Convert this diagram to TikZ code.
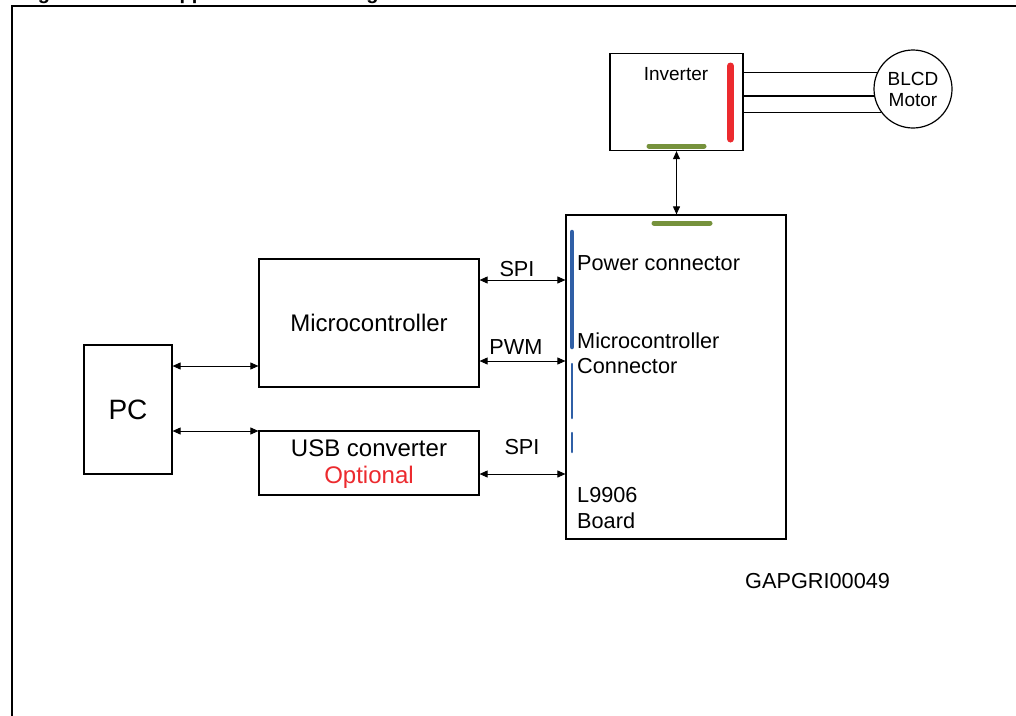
\documentclass[tikz,border=0pt]{standalone}
\usepackage{fontspec}
\setmainfont{Liberation Sans}
\usetikzlibrary{arrows.meta,calc}
\definecolor{barblue}{HTML}{2F5FA6}
\definecolor{bargreen}{HTML}{76923C}
\definecolor{barred}{HTML}{EC2A2E}
\newcommand{\fs}[1]{\fontsize{#1}{#1}\selectfont}
\tikzset{
  box/.style={draw, line width=1.2pt, rectangle, inner sep=0pt, align=center},
  biarrow/.style={line width=0.9pt, {Triangle[length=8pt,width=7pt]}-{Triangle[length=8pt,width=7pt]}},
  wire/.style={line width=1.2pt},
  bar/.style={line cap=round},
  lbl/.style={inner sep=0pt, font=\fs{21.7}},
}
\begin{document}
\begin{tikzpicture}[x=1pt,y=-1pt]
\useasboundingbox (0,0) rectangle (1016,715);
\fill[white] (0,0) rectangle (1016,715);
% frame and cut-off title
\node[anchor=base west, inner sep=0pt, font=\bfseries\fs{20}] (title1) at (20,-0.8) {Figure 5.};
\node[anchor=base west, inner sep=0pt, font=\bfseries\fs{20}] (title2) at (165,-0.8) {Application block diagram};
\draw[line width=2.6pt] (12,720) -- (12,6) -- (1020,6);
% inverter and motor
\node[box, minimum width=133pt, minimum height=97pt] (inv) at (676.5,102) {};
\node[lbl, font=\fs{19}] (invt) at (676,74) {Inverter};
\draw[bar, barred, line width=7pt] (730.5,66) -- (730.5,139);
\draw[bar, bargreen, line width=5pt] (649,146) -- (704,146);
\node[draw, circle, line width=1.2pt, minimum size=78pt, inner sep=0pt, align=center, font=\fs{19}] (motor) at (913,89) {BLCD\\[2pt]Motor};
\draw[wire] (motor.155.8 -| inv.east) -- (motor.155.8);
\draw[line width=2.4pt] (motor.190.3 -| inv.east) -- (motor.190.3);
\draw[wire] (motor.216.1 -| inv.east) -- (motor.216.1);
% board
\node[box, minimum width=220pt, minimum height=324pt] (board) at (676,377) {};
\draw[biarrow] (inv.south) -- (inv.south |- board.north);
\draw[bar, bargreen, line width=5pt] (654,223) -- (710,223);
\draw[bar, barblue, line width=4.5pt] (572,232) -- (572,347);
\draw[bar, barblue, line width=2.5pt] (572,364) -- (572,418);
\draw[bar, barblue, line width=2.5pt] (572,433) -- (572,452);
\node[lbl, anchor=west] (pwr) at (577,263) {Power connector};
\node[lbl, anchor=west] (mcc1) at (577,341) {Microcontroller};
\node[lbl, anchor=west] (mcc2) at (577,366) {Connector};
\node[lbl, anchor=west] (brd1) at (577,495) {L9906};
\node[lbl, anchor=west] (brd2) at (577,521) {Board};
% left blocks
\node[box, minimum width=220pt, minimum height=128pt, font=\fs{24}] (mcu) at (369,323) {Microcontroller};
\node[box, minimum width=220pt, minimum height=64pt] (usb) at (369,463) {};
\node[lbl, font=\fs{24}] (usbt) at (369,448) {USB converter};
\node[lbl, font=\fs{24}, text=barred] (opt) at (369,477) {Optional};
\node[box, minimum width=88pt, minimum height=129pt, font=\fs{28}] (pc) at (128,409.5) {PC};
% connectors
\coordinate (yA) at (0,366);
\coordinate (yB) at (0,431);
\coordinate (yC) at (0,280);
\coordinate (yD) at (0,361);
\coordinate (yE) at (0,474);
\draw[biarrow] (pc.east |- yA) -- (mcu.west |- yA);
\draw[biarrow] (pc.east |- yB) -- (usb.west |- yB);
\draw[biarrow] (mcu.east |- yC) -- (board.west |- yC);
\draw[biarrow] (mcu.east |- yD) -- (board.west |- yD);
\draw[biarrow] (usb.east |- yE) -- (board.west |- yE);
\node[lbl] (spi1) at (517,269) {SPI};
\node[lbl] (pwm) at (516,347) {PWM};
\node[lbl] (spi2) at (522,447) {SPI};
\node[lbl, anchor=west] (gap) at (745,581) {GAPGRI00049};
\end{tikzpicture}
\end{document}
